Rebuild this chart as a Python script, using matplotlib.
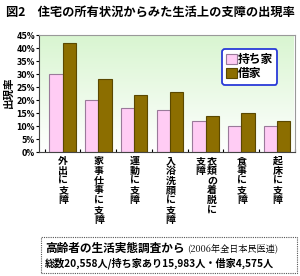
import numpy as np
import matplotlib
matplotlib.use('Agg')
import matplotlib.pyplot as plt
from matplotlib.patches import Rectangle
from matplotlib.colors import LinearSegmentedColormap

plt.rcParams['font.family'] = ['Noto Sans CJK JP', 'DejaVu Sans']

# data
categories = ['外出に支障', '家事仕事に支障', '運動に支障', '入浴洗顔に支障',
              '衣類の着脱に\n支障', '食事に支障', '起床に支障']
owned = [30, 20, 17, 16, 12, 10, 10]
rented = [42, 28, 22, 23, 14, 15, 12]
series_names = ['持ち家', '借家']
yticks = [0, 5, 10, 15, 20, 25, 30, 35, 40, 45]


fig = plt.figure(figsize=(3.0, 2.76), dpi=100)
fig.patch.set_facecolor('white')

fig.text(0.02, 0.955, '図2　住宅の所有状況からみた生活上の支障の出現率',
         fontsize=8.8, fontweight='bold', va='center', ha='left')

ax = fig.add_axes([0.13, 0.449, 0.853, 0.424])
x = np.arange(len(categories))
w = 0.37

# background gradient
grad = np.linspace(0, 1, 256).reshape(-1, 1)
cmap = LinearSegmentedColormap.from_list('g', ['#ffffff', '#d8f5d0'])
ax.imshow(grad, extent=[-0.66, 6.47, 0, 45], origin='lower', aspect='auto',
          cmap=cmap, zorder=0)

ax.bar(x - w / 2, owned, w, color='#ffccf4', edgecolor='#9a7a9a', linewidth=0.8,
       label=series_names[0], zorder=2)
ax.bar(x + w / 2, rented, w, color='#8c6e00', edgecolor='#5a4800', linewidth=0.8,
       label=series_names[1], zorder=2)

ax.set_xlim(-0.66, 6.47)
ax.set_ylim(0, 45)
ax.set_yticks(yticks)
ax.set_yticklabels([f'{v}%' for v in yticks], fontsize=5.6, fontweight='bold',
                   family=['DejaVu Sans'])
ax.tick_params(axis='y', length=2, pad=1)
ax.set_xticks(np.arange(-0.5, 7, 1))
ax.set_xticklabels([])
ax.tick_params(axis='x', length=2, direction='in')
for s in ['top', 'right']:
    ax.spines[s].set_color('#999999')
ax.spines['left'].set_color('#444444')
ax.spines['bottom'].set_color('#444444')

fig.text(0.03, 0.665, '出現率', fontsize=7.6, fontweight='bold',
         ha='center', va='center', rotation=90)

# vertical category labels (columns read right to left)
for i, lab in enumerate(categories):
    cols = lab.split('\n')
    n = len(cols)
    for j, col in enumerate(cols):
        offset = (n - 1 - j) - (n - 1) / 2
        ax.text(i + 0.02 + offset * 0.32, -1.5, '\n'.join(col), fontsize=7.2,
                fontweight='bold', ha='center', va='top', linespacing=0.98,
                clip_on=False)

# legend
leg = ax.legend(loc='upper right', bbox_to_anchor=(0.955, 0.93),
                prop={'weight': 'bold', 'size': 8.5}, handlelength=0.9,
                handleheight=0.9, handletextpad=0.1, borderpad=0.35,
                labelspacing=0.1, fancybox=True, framealpha=1)
leg.get_frame().set_edgecolor('#2a3ad8')
leg.get_frame().set_linewidth(1.3)
leg.get_frame().set_facecolor('white')

# footer box
box = Rectangle((0.135, 0.012), 0.855, 0.128, transform=fig.transFigure,
                fill=False, edgecolor='#555555', linestyle=(0, (1, 1)), linewidth=0.8)
fig.add_artist(box)
fig.text(0.15, 0.1, '高齢者の生活実態調査から', fontsize=8.4, fontweight='bold',
         ha='left', va='center')
fig.text(0.625, 0.1, '(2006年全日本民医連)', fontsize=6.6, ha='left', va='center',
         family=['Noto Serif CJK JP', 'Noto Sans CJK JP'])
fig.text(0.53, 0.045, '総数20,558人/持ち家あり15,983人・借家4,575人', fontsize=7.3,
         ha='center', va='center', fontweight='bold')

fig.savefig('out.png', dpi=100)
